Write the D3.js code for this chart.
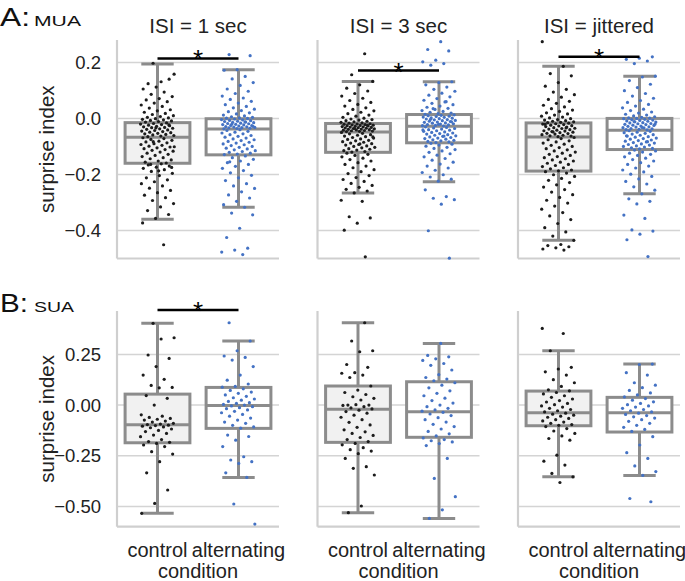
<!DOCTYPE html>
<html><head><meta charset="utf-8">
<script src="https://cdn.jsdelivr.net/npm/d3@7"></script>
<style>body{margin:0;background:#fff} svg{display:block}</style>
</head><body><svg id="chart" width="685" height="581"></svg>
<script>
// ---------------- data ----------------
const panelTitles = ["ISI = 1 sec", "ISI = 3 sec", "ISI = jittered"];
const conditions = ["control", "alternating"];
const rowNames = ["MUA", "SUA"];
const rowLetters = ["A:", "B:"];
const muaTicks = [-0.4, -0.2, 0, 0.2];
const muaTickLabels = ["−0.4", "−0.2", "0.0", "0.2"];
const suaTicks = [-0.5, -0.25, 0, 0.25];
const suaTickLabels = ["−0.50", "−0.25", "0.00", "0.25"];
const xAxisLabel = "condition";
const yAxisLabel = "surprise index";

// box stats per panel: [low whisker, Q1, median, Q3, high whisker]
const muaControlBox = [[-0.360, -0.160, -0.067, -0.015, 0.194], [-0.266, -0.121, -0.048, -0.018, 0.132], [-0.435, -0.188, -0.066, -0.016, 0.186]];
const muaAlternatingBox = [[-0.317, -0.130, -0.038, -0.001, 0.174], [-0.226, -0.087, -0.028, 0.014, 0.131], [-0.269, -0.111, -0.042, 0.000, 0.151]];
const suaControlBox = [[-0.534, -0.186, -0.097, 0.054, 0.403], [-0.531, -0.184, -0.021, 0.094, 0.406], [-0.354, -0.102, -0.038, 0.069, 0.268]];
const suaAlternatingBox = [[-0.357, -0.115, -0.002, 0.087, 0.316], [-0.559, -0.159, -0.033, 0.115, 0.304], [-0.347, -0.133, -0.038, 0.038, 0.202]];

// significance (control vs alternating) and the level of the bar, in data units
const muaSignificant = [true, true, true];
const muaSigLevel = [0.214, 0.171, 0.220];
const suaSignificant = [true, false, false];
const suaSigLevel = [0.469, null, null];

// individual units (surprise index)
const muaControl = [
 [0.197,0.158,0.131,0.124,0.140,0.112,0.105,0.094,0.086,0.078,0.071,0.066,0.060,0.055,0.048,0.043,0.037,0.031,0.027,0.022,0.018,0.014,0.010,0.007,0.004,0.002,-0.001,-0.003,-0.005,-0.007,-0.009,-0.011,-0.013,
  -0.016,-0.018,-0.020,-0.022,-0.024,-0.026,-0.028,-0.030,-0.032,-0.033,-0.035,-0.037,-0.039,-0.041,-0.043,-0.045,-0.047,-0.049,-0.051,-0.053,-0.055,-0.057,-0.059,-0.061,-0.063,-0.065,-0.023,-0.034,
  -0.069,-0.072,-0.075,-0.078,-0.081,-0.084,-0.087,-0.090,-0.093,-0.096,-0.099,-0.102,-0.105,-0.108,-0.111,-0.114,-0.117,-0.120,-0.124,-0.128,-0.132,-0.136,-0.140,-0.144,-0.148,-0.152,-0.156,-0.159,-0.083,-0.101,
  -0.162,-0.166,-0.170,-0.174,-0.178,-0.183,-0.189,-0.196,-0.204,-0.212,-0.219,-0.226,-0.233,-0.241,-0.249,-0.257,-0.265,-0.274,-0.283,-0.293,-0.304,-0.316,-0.329,-0.343,-0.357,-0.373,-0.451,-0.164,-0.175,-0.187],
 [0.231,0.156,0.132,0.120,0.108,0.098,0.089,0.080,0.072,0.064,0.057,0.050,0.044,0.038,0.032,0.027,0.022,0.017,0.012,0.008,0.004,0.001,-0.002,-0.004,-0.006,-0.008,-0.010,-0.012,-0.014,-0.016,-0.017,
  -0.019,-0.020,-0.021,-0.022,-0.023,-0.024,-0.025,-0.026,-0.027,-0.028,-0.029,-0.030,-0.031,-0.032,-0.033,-0.034,-0.035,-0.036,-0.037,-0.038,-0.039,-0.040,-0.041,-0.042,-0.043,-0.044,-0.045,-0.046,-0.047,-0.025,-0.036,
  -0.050,-0.053,-0.055,-0.058,-0.060,-0.063,-0.065,-0.068,-0.070,-0.073,-0.075,-0.078,-0.080,-0.083,-0.085,-0.088,-0.090,-0.093,-0.095,-0.098,-0.100,-0.103,-0.105,-0.108,-0.110,-0.113,-0.115,-0.118,-0.120,-0.066,-0.091,
  -0.124,-0.128,-0.132,-0.137,-0.142,-0.147,-0.152,-0.158,-0.164,-0.170,-0.176,-0.183,-0.190,-0.197,-0.204,-0.211,-0.218,-0.225,-0.232,-0.239,-0.246,-0.253,-0.259,-0.266,-0.292,-0.296,-0.351,-0.355,-0.374,-0.399,-0.494],
 [0.274,0.186,0.160,0.152,0.128,0.115,0.104,0.094,0.085,0.076,0.068,0.061,0.054,0.047,0.041,0.035,0.030,0.025,0.020,0.016,0.012,0.008,0.005,0.002,-0.001,-0.004,-0.006,-0.008,-0.010,-0.012,-0.014,-0.015,
  -0.017,-0.019,-0.020,-0.022,-0.024,-0.026,-0.027,-0.029,-0.031,-0.033,-0.035,-0.036,-0.038,-0.040,-0.042,-0.044,-0.045,-0.047,-0.049,-0.051,-0.053,-0.054,-0.056,-0.058,-0.060,-0.062,-0.063,-0.065,-0.021,-0.034,-0.048,
  -0.068,-0.072,-0.076,-0.080,-0.084,-0.088,-0.092,-0.096,-0.100,-0.104,-0.108,-0.112,-0.116,-0.120,-0.124,-0.128,-0.132,-0.136,-0.140,-0.144,-0.148,-0.152,-0.156,-0.160,-0.164,-0.168,-0.172,-0.176,-0.180,-0.184,-0.187,
  -0.190,-0.195,-0.201,-0.207,-0.214,-0.221,-0.229,-0.237,-0.245,-0.254,-0.263,-0.272,-0.282,-0.292,-0.302,-0.313,-0.324,-0.336,-0.348,-0.361,-0.375,-0.390,-0.405,-0.420,-0.435,-0.450,-0.454,-0.458,-0.462,-0.466,-0.470]
];
const muaAlternating = [
 [0.228,0.224,0.174,0.172,0.150,0.141,0.128,0.118,0.105,0.097,0.089,0.080,0.073,0.068,0.061,0.055,0.049,0.043,0.038,0.033,0.028,0.024,0.020,0.016,0.012,0.009,0.006,0.004,0.002,0.001,0.000,
  -0.002,-0.004,-0.005,-0.007,-0.008,-0.010,-0.011,-0.013,-0.014,-0.015,-0.017,-0.018,-0.019,-0.021,-0.022,-0.023,-0.025,-0.026,-0.027,-0.029,-0.030,-0.031,-0.032,-0.033,-0.034,-0.035,-0.036,-0.037,-0.012,-0.020,-0.028,
  -0.040,-0.043,-0.046,-0.049,-0.052,-0.055,-0.058,-0.061,-0.064,-0.067,-0.070,-0.073,-0.076,-0.079,-0.082,-0.085,-0.088,-0.091,-0.094,-0.097,-0.100,-0.103,-0.106,-0.109,-0.112,-0.115,-0.118,-0.121,-0.124,-0.127,-0.129,
  -0.134,-0.140,-0.146,-0.152,-0.158,-0.164,-0.171,-0.178,-0.186,-0.194,-0.203,-0.212,-0.222,-0.233,-0.241,-0.250,-0.262,-0.273,-0.284,-0.296,-0.308,-0.317,-0.338,-0.344,-0.392,-0.425,-0.463,-0.470,-0.477,-0.486,-0.155],
 [0.274,0.246,0.241,0.208,0.202,0.196,0.190,0.131,0.128,0.120,0.112,0.104,0.097,0.090,0.083,0.077,0.071,0.065,0.059,0.054,0.049,0.044,0.040,0.036,0.032,0.028,0.025,0.022,0.019,0.017,0.015,0.060,0.035,
  0.013,0.011,0.010,0.008,0.007,0.005,0.004,0.002,0.001,-0.001,-0.002,-0.004,-0.005,-0.007,-0.008,-0.010,-0.011,-0.013,-0.014,-0.016,-0.017,-0.019,-0.020,-0.022,-0.023,-0.025,-0.026,-0.027,-0.003,-0.012,-0.021,
  -0.030,-0.032,-0.034,-0.036,-0.038,-0.040,-0.042,-0.044,-0.046,-0.048,-0.050,-0.052,-0.054,-0.056,-0.058,-0.060,-0.062,-0.064,-0.066,-0.068,-0.070,-0.072,-0.074,-0.076,-0.078,-0.080,-0.082,-0.084,-0.086,-0.041,-0.063,
  -0.089,-0.092,-0.095,-0.099,-0.103,-0.107,-0.111,-0.116,-0.121,-0.126,-0.131,-0.137,-0.143,-0.149,-0.156,-0.163,-0.170,-0.177,-0.185,-0.193,-0.201,-0.209,-0.217,-0.224,-0.255,-0.279,-0.285,-0.290,-0.306,-0.401,-0.499],
 [0.220,0.215,0.211,0.205,0.196,0.151,0.148,0.135,0.122,0.110,0.099,0.089,0.080,0.072,0.064,0.057,0.050,0.044,0.038,0.033,0.028,0.023,0.019,0.015,0.012,0.009,0.006,0.004,0.002,0.001,0.000,
  -0.001,-0.003,-0.004,-0.006,-0.007,-0.009,-0.010,-0.012,-0.013,-0.015,-0.016,-0.018,-0.019,-0.021,-0.022,-0.024,-0.025,-0.027,-0.028,-0.030,-0.031,-0.033,-0.034,-0.036,-0.037,-0.039,-0.040,-0.041,-0.011,-0.020,-0.032,
  -0.044,-0.046,-0.049,-0.051,-0.053,-0.056,-0.058,-0.060,-0.063,-0.065,-0.067,-0.070,-0.072,-0.074,-0.077,-0.079,-0.081,-0.084,-0.086,-0.088,-0.091,-0.093,-0.095,-0.098,-0.100,-0.102,-0.105,-0.107,-0.109,-0.062,-0.083,
  -0.113,-0.116,-0.120,-0.124,-0.128,-0.132,-0.137,-0.142,-0.147,-0.152,-0.158,-0.164,-0.170,-0.177,-0.184,-0.191,-0.199,-0.207,-0.216,-0.225,-0.234,-0.244,-0.256,-0.269,-0.287,-0.296,-0.305,-0.345,-0.357,-0.398,-0.402,-0.413,-0.433,-0.493]
];
const suaControl = [
 [0.403,0.332,0.326,0.247,0.230,0.190,0.148,0.127,0.097,0.087,0.085,0.047,0.033,0.000,
  -0.048,-0.055,-0.061,-0.066,-0.070,-0.074,-0.079,-0.084,-0.090,-0.094,-0.096,
  -0.099,-0.101,-0.104,-0.108,-0.112,-0.118,-0.125,-0.131,-0.140,-0.148,-0.156,-0.170,-0.180,
  -0.184,-0.189,-0.197,-0.205,-0.230,-0.242,-0.279,-0.334,-0.419,-0.485,-0.534],
 [0.406,0.316,0.268,0.263,0.200,0.186,0.160,0.157,0.148,0.136,0.094,
  0.074,0.062,0.052,0.041,0.033,0.025,0.000,0.000,0.002,-0.002,-0.008,-0.014,-0.019,
  -0.025,-0.032,-0.040,-0.050,-0.060,-0.072,-0.085,-0.098,-0.110,-0.122,-0.132,-0.140,-0.150,-0.160,-0.170,-0.180,
  -0.189,-0.196,-0.210,-0.220,-0.227,-0.240,-0.263,-0.304,-0.312,-0.345,-0.498,-0.531],
 [0.378,0.353,0.268,0.186,0.178,0.164,0.148,0.125,0.110,0.092,0.075,0.070,
  0.062,0.055,0.046,0.038,0.030,0.022,0.015,0.008,0.002,-0.004,-0.010,-0.016,-0.022,-0.028,-0.034,
  -0.040,-0.045,-0.050,-0.055,-0.060,-0.066,-0.072,-0.078,-0.084,-0.090,-0.096,-0.100,
  -0.106,-0.116,-0.128,-0.140,-0.152,-0.165,-0.173,-0.247,-0.277,-0.296,-0.337,-0.354,-0.382]
];
const suaAlternating = [
 [0.406,0.316,0.268,0.242,0.235,0.222,0.190,0.148,0.123,0.104,0.092,0.088,
  0.080,0.072,0.064,0.058,0.050,0.043,0.036,0.030,0.024,0.018,0.012,0.008,0.003,0.000,
  -0.004,-0.008,-0.013,-0.018,-0.024,-0.031,-0.038,-0.046,-0.055,-0.064,-0.074,-0.084,-0.090,-0.100,-0.108,-0.114,
  -0.148,-0.155,-0.173,-0.205,-0.255,-0.271,-0.279,-0.288,-0.334,-0.357,-0.488,-0.587],
 [0.304,0.245,0.238,0.228,0.220,0.205,0.196,0.173,0.150,0.136,0.128,0.120,
  0.110,0.098,0.085,0.070,0.058,0.046,0.034,0.022,0.010,0.000,-0.008,-0.016,-0.024,-0.030,
  -0.036,-0.044,-0.052,-0.062,-0.072,-0.084,-0.095,-0.106,-0.118,-0.130,-0.142,-0.152,
  -0.162,-0.170,-0.176,-0.182,-0.190,-0.200,-0.263,-0.362,-0.452,-0.517,-0.559],
 [0.202,0.200,0.160,0.148,0.110,0.098,0.086,0.072,0.060,0.050,0.040,
  0.032,0.024,0.016,0.008,0.002,-0.004,-0.010,-0.016,-0.022,-0.028,-0.034,
  -0.040,-0.046,-0.052,-0.058,-0.064,-0.072,-0.080,-0.090,-0.100,-0.110,-0.120,-0.130,
  -0.156,-0.197,-0.235,-0.263,-0.300,-0.328,-0.347,-0.461,-0.477]
];

// ---------------- drawing ----------------
const svg = d3.select("#chart");
const FONT = "'Liberation Sans', Arial, Helvetica, sans-serif";
const GRID = "#d4d4d4", SPINE = "#cfcfcf", BOXC = "#8c8c8c";
const dotColor = {control: "#1c1c1c", alternating: "#4472c4"};
const boxFill = {control: "#f1f1f1", alternating: "#ffffff"};

const px = d3.scaleBand().domain(panelTitles).range([117, 680]).paddingInner(0.192);
const pw = px.bandwidth();
const cx = d3.scaleBand().domain(conditions).range([0, pw]);

const rows = [
  {name: rowNames[0], letter: rowLetters[0], y: d3.scaleLinear().domain([-0.5, 0.28]).range([258.5, 40]),
   ticks: muaTicks, labels: muaTickLabels, ctrl: muaControl, alt: muaAlternating,
   ctrlBox: muaControlBox, altBox: muaAlternatingBox, sig: muaSignificant, sigLevel: muaSigLevel,
   letterY: 25.5, showX: false},
  {name: rowNames[1], letter: rowLetters[1], y: d3.scaleLinear().domain([-0.6, 0.464]).range([526.7, 311]),
   ticks: suaTicks, labels: suaTickLabels, ctrl: suaControl, alt: suaAlternating,
   ctrlBox: suaControlBox, altBox: suaAlternatingBox, sig: suaSignificant, sigLevel: suaSigLevel,
   letterY: 311.5, showX: true}
];

const jitterHalf = 0.21; // fraction of band
function jit(i) { return ((i * 0.6180339887 + 0.37) % 1) - 0.5; }

rows.forEach((row, ri) => {
  const y = row.y;
  const [yb, yt] = y.range();
  // row letter
  svg.append("text").attr("x", 0).attr("y", row.letterY)
    .attr("font-family", FONT).attr("font-size", 25).attr("fill", "#111")
    .attr("textLength", ri === 0 ? 30 : 28).attr("lengthAdjust", "spacingAndGlyphs").text(row.letter);
  svg.append("text").attr("x", 34).attr("y", row.letterY)
    .attr("font-family", FONT).attr("font-size", 15).attr("fill", "#111")
    .attr("textLength", ri === 0 ? 47 : 40).attr("lengthAdjust", "spacingAndGlyphs").text(row.name);

  // y label
  svg.append("text").attr("transform", `translate(54,${(yb + yt) / 2}) rotate(-90)`)
    .attr("text-anchor", "middle").attr("font-family", FONT).attr("font-size", 20.5).attr("fill", "#222")
    .text(yAxisLabel);

  panelTitles.forEach((title, pi) => {
    const g = svg.append("g").attr("transform", `translate(${px(title)},0)`);
    // grid
    g.selectAll("line.grid").data(row.ticks).join("line").attr("class", "grid")
      .attr("x1", 0).attr("x2", pw).attr("y1", d => y(d)).attr("y2", d => y(d))
      .attr("stroke", GRID).attr("stroke-width", 1.5);
    // spines
    g.append("line").attr("x1", 0).attr("x2", 0).attr("y1", yt).attr("y2", yb)
      .attr("stroke", SPINE).attr("stroke-width", 2.2);
    g.append("line").attr("x1", 0).attr("x2", pw).attr("y1", yb).attr("y2", yb)
      .attr("stroke", SPINE).attr("stroke-width", 2.2);
    // y ticks for first panel
    if (pi === 0) {
      row.ticks.forEach((t, ti) => {
        svg.append("text").attr("x", 101).attr("y", y(t)).attr("dy", "0.36em")
          .attr("text-anchor", "end").attr("font-family", FONT).attr("font-size", 18.5).attr("fill", "#222")
          .text(row.labels[ti]);
      });
    }
    // title
    if (ri === 0) {
      svg.append("text").attr("x", px(title) + pw / 2).attr("y", 33).attr("text-anchor", "middle")
        .attr("font-family", FONT).attr("font-size", 20.5).attr("fill", "#222").text(title);
    }
    // boxes
    conditions.forEach((cond, ci) => {
      const st = ci === 0 ? row.ctrlBox[pi] : row.altBox[pi];
      const c = cx(cond) + cx.bandwidth() / 2;
      const bw = cx.bandwidth() * 0.8;
      const bg = g.append("g");
      bg.append("line").attr("x1", c).attr("x2", c).attr("y1", y(st[0])).attr("y2", y(st[1]))
        .attr("stroke", BOXC).attr("stroke-width", 3);
      bg.append("line").attr("x1", c).attr("x2", c).attr("y1", y(st[3])).attr("y2", y(st[4]))
        .attr("stroke", BOXC).attr("stroke-width", 3);
      [st[0], st[4]].forEach(v => bg.append("line").attr("x1", c - bw / 4).attr("x2", c + bw / 4)
        .attr("y1", y(v)).attr("y2", y(v)).attr("stroke", BOXC).attr("stroke-width", 3));
      bg.append("rect").attr("x", c - bw / 2).attr("width", bw).attr("y", y(st[3]))
        .attr("height", y(st[1]) - y(st[3])).attr("fill", boxFill[cond])
        .attr("stroke", BOXC).attr("stroke-width", 3);
      bg.append("line").attr("x1", c - bw / 2).attr("x2", c + bw / 2).attr("y1", y(st[2])).attr("y2", y(st[2]))
        .attr("stroke", BOXC).attr("stroke-width", 3);
      // points
      const vals = ci === 0 ? row.ctrl[pi] : row.alt[pi];
      g.append("g").selectAll("circle").data(vals).join("circle")
        .attr("cx", (d, i) => c + jit(i + pi * 7 + ci * 3) * 2 * jitterHalf * cx.bandwidth())
        .attr("cy", d => y(d)).attr("r", 1.6).attr("fill", dotColor[cond]);
      // x tick labels
      if (row.showX) {
        svg.append("text").attr("x", px(title) + c).attr("y", 557).attr("text-anchor", "middle")
          .attr("font-family", FONT).attr("font-size", 20).attr("fill", "#222").text(cond);
      }
    });
    if (row.showX) {
      svg.append("text").attr("x", px(title) + pw / 2).attr("y", 578).attr("text-anchor", "middle")
        .attr("font-family", FONT).attr("font-size", 20).attr("fill", "#222").text(xAxisLabel);
    }
    // significance
    if (row.sig[pi]) {
      const yy = y(row.sigLevel[pi]);
      const c1 = cx(conditions[0]) + cx.bandwidth() / 2, c2 = cx(conditions[1]) + cx.bandwidth() / 2;
      g.append("line").attr("x1", c1).attr("x2", c2).attr("y1", yy).attr("y2", yy)
        .attr("stroke", "#000").attr("stroke-width", 2.5);
      g.append("text").attr("x", (c1 + c2) / 2).attr("y", yy + 10).attr("text-anchor", "middle")
        .attr("font-family", FONT).attr("font-size", 26).attr("fill", "#000").text("*");
    }
  });
});
</script>
</body></html>
